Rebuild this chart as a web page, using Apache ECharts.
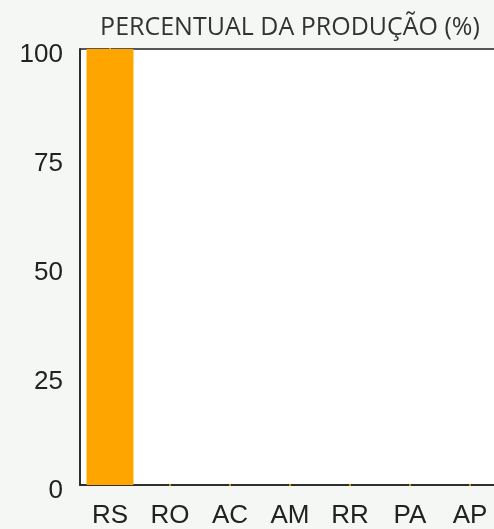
<!DOCTYPE html>
<html><head><meta charset="utf-8">
<script src="https://cdn.jsdelivr.net/npm/echarts@6/dist/echarts.min.js"></script>
<style>html,body{margin:0;padding:0;overflow:hidden;background:#f5f7f5;}#c{width:580px;height:529px;}</style>
</head><body><div id="c"></div>
<script>
const titleText = 'PERCENTUAL DA PRODUÇÃO (%)';
const categories = ['RS','RO','AC','AM','RR','PA','AP','TO'];
const values = [100,0,0,0,0,0,0,0];
const yTicks = [0,25,50,75,100];

const chart = echarts.init(document.getElementById('c'), null, {renderer:'canvas'});
chart.setOption({
  backgroundColor:'#f5f7f5',
  animation:false,
  title:{text:titleText,left:'center',top:10,textStyle:{fontFamily:'Open Sans',fontWeight:'normal',fontSize:25,color:'#333'}},
  grid:{left:80,right:20,top:49,bottom:40,show:true,backgroundColor:'#ffffff',borderColor:'#222',borderWidth:1.5},
  xAxis:{type:'category',data:categories,
    axisLine:{show:true,lineStyle:{color:'#222',width:1.5}},axisTick:{show:false},
    axisLabel:{fontFamily:'Liberation Sans',fontSize:26,color:'#222',margin:18}},
  yAxis:{type:'value',min:yTicks[0],max:yTicks[yTicks.length-1],interval:25,
    axisLine:{show:true,lineStyle:{color:'#222',width:1.5}},axisTick:{show:false},splitLine:{show:false},
    axisLabel:{fontFamily:'Liberation Sans',fontSize:26,color:'#222',margin:17,verticalAlign:'top',lineHeight:26,padding:[-7,0,0,0]}},
  series:[
    {type:'bar',data:values,barWidth:47,itemStyle:{color:'#FFA500'}},
    {type:'scatter',data:values,symbol:'rect',symbolSize:[2,2],itemStyle:{color:'#FFA500'},z:5}
  ]
});
</script></body></html>
